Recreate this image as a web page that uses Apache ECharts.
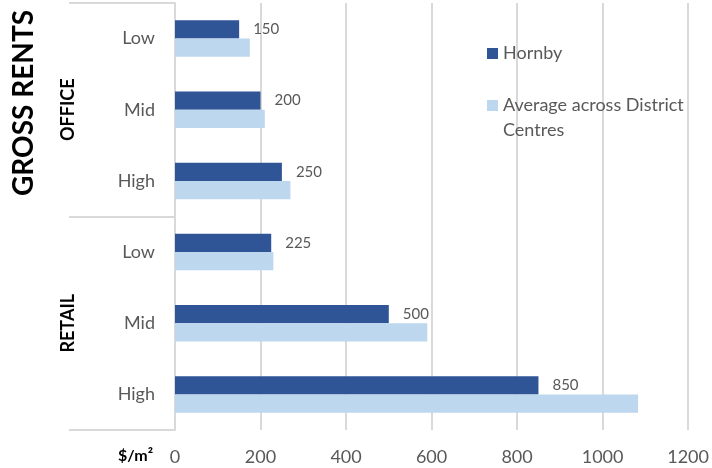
<!DOCTYPE html>
<html>
<head>
<meta charset="utf-8">
<style>
  html, body { margin: 0; padding: 0; background: #ffffff; }
  #chart { width: 712px; height: 468px; }
</style>
<script src="https://cdn.jsdelivr.net/npm/echarts@6/dist/echarts.min.js"></script>
</head>
<body>
<div id="chart"></div>
<script>
// Gross rents ($/m²) by grade, office and retail
const grades = ['Low', 'Mid', 'High', 'Low', 'Mid', 'High'];
const groups = ['OFFICE', 'RETAIL'];
const hornby = [150, 200, 250, 225, 500, 850];
const districtAverage = [175, 210, 270, 230, 590, 1083];
const xTicks = { min: 0, max: 1200, interval: 200 };

const FONT = 'Lato, "Open Sans", sans-serif';
const GREY_TEXT = '#595959';
const LINE_GREY = '#d9d9d9';

const chart = echarts.init(document.getElementById('chart'), null, { renderer: 'canvas' });

chart.setOption({
  animation: false,
  backgroundColor: '#ffffff',
  textStyle: { fontFamily: FONT },
  grid: { left: 175, right: 23, top: 3, bottom: 38, containLabel: false },
  legend: {
    orient: 'vertical',
    left: 482,
    top: 36,
    itemWidth: 11,
    itemHeight: 11,
    itemGap: 2,
    icon: 'rect',
    data: ['Hornby', 'Average across District Centres'],
    formatter: function (name) {
      return name === 'Hornby' ? name : '\nAverage across District\nCentres';
    },
    textStyle: { fontFamily: FONT, fontSize: 18, color: GREY_TEXT, lineHeight: 25 }
  },
  xAxis: {
    type: 'value',
    min: xTicks.min,
    max: xTicks.max,
    interval: xTicks.interval,
    name: '$/m²',
    nameLocation: 'start',
    nameGap: 22,
    nameTextStyle: {
      fontFamily: FONT, fontSize: 16, fontWeight: 'bold', color: '#000000',
      verticalAlign: 'top',
      padding: [18, 0, 0, 0]
    },
    axisLine: { show: false },
    axisTick: { show: false },
    axisLabel: {
      fontFamily: FONT, fontSize: 18, color: GREY_TEXT, margin: 18,
      formatter: function (v) { return String(v); }
    },
    splitLine: { show: true, lineStyle: { color: LINE_GREY, width: 2 } }
  },
  yAxis: [
    {
      type: 'category',
      data: grades,
      inverse: true,
      axisLine: { show: true, lineStyle: { color: LINE_GREY, width: 2 } },
      axisTick: { show: false },
      axisLabel: { fontFamily: FONT, fontSize: 18, color: GREY_TEXT, margin: 20 },
      splitLine: { show: false }
    },
    {
      type: 'category',
      data: groups,
      inverse: true,
      position: 'left',
      offset: 106,
      axisLine: { show: false },
      axisTick: { show: true, inside: true, length: 106, lineStyle: { color: LINE_GREY, width: 2 } },
      axisLabel: {
        fontFamily: FONT, fontSize: 18, fontWeight: 'bold', color: '#000000',
        rotate: 90, align: 'center', verticalAlign: 'middle', margin: 1
      },
      splitLine: { show: false }
    }
  ],
  series: [
    {
      name: 'Hornby',
      type: 'bar',
      yAxisIndex: 0,
      data: hornby,
      barGap: '0%',
      barCategoryGap: '48.6%',
      itemStyle: { color: '#2f5597' },
      label: {
        show: true, position: 'right', distance: 14,
        fontFamily: FONT, fontSize: 15, color: GREY_TEXT
      }
    },
    {
      name: 'Average across District Centres',
      type: 'bar',
      yAxisIndex: 0,
      data: districtAverage,
      barGap: '0%',
      barCategoryGap: '48.6%',
      itemStyle: { color: '#bdd7ee' }
    }
  ],
  graphic: [
    {
      type: 'text',
      x: 24,
      y: 103,
      rotation: Math.PI / 2,
      style: {
        text: 'GROSS RENTS',
        font: 'bold 28px ' + FONT,
        fill: '#000000',
        align: 'center',
        verticalAlign: 'middle'
      }
    }
  ]
});
</script>
</body>
</html>
